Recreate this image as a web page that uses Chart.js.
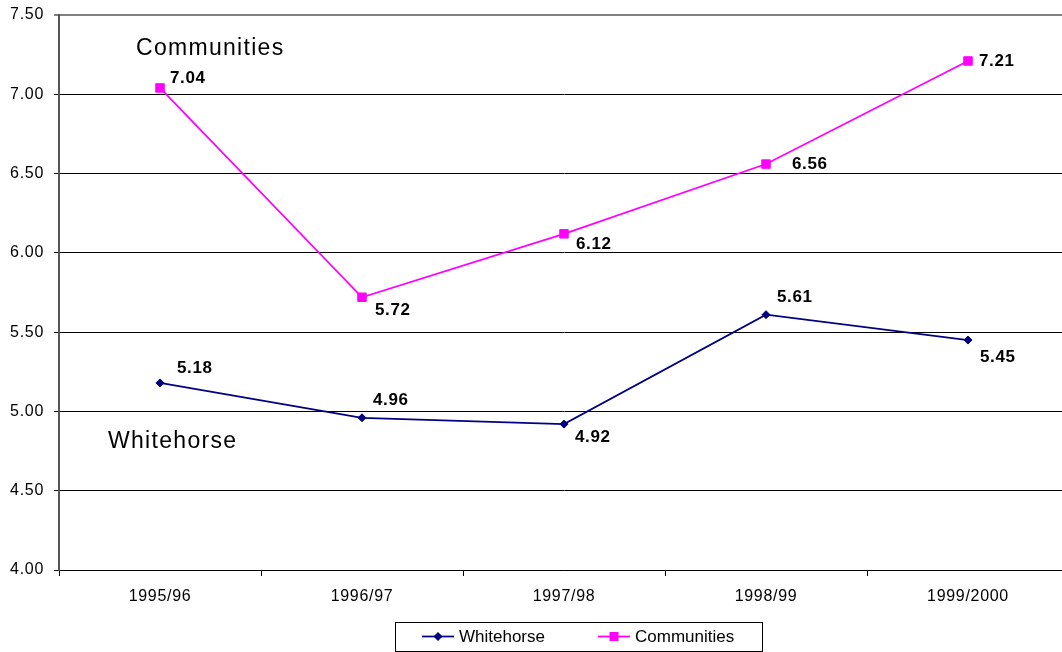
<!DOCTYPE html>
<html>
<head>
<meta charset="utf-8">
<script src="https://cdn.jsdelivr.net/npm/chart.js@4/dist/chart.umd.min.js"></script>
<style>
  html, body { margin: 0; padding: 0; background: #fff; overflow: hidden; }
  #wrap { width: 1062px; height: 652px; overflow: hidden; position: relative; }
  canvas { display: block; }
</style>
</head>
<body>
<div id="wrap"><canvas id="c" width="1076" height="652" style="width:1076px;height:652px"></canvas></div>
<script>
// Fiscal years and the two series
const years = ['1995/96', '1996/97', '1997/98', '1998/99', '1999/2000'];
const whitehorse = [5.18, 4.96, 4.92, 5.61, 5.45];
const communities = [7.04, 5.72, 6.12, 6.56, 7.21];
const seriesNames = ['Whitehorse', 'Communities'];
const yMin = 4.0, yMax = 7.5, yStep = 0.5;

const FONT = '"Liberation Sans", Arial, Helvetica, sans-serif';
const NAVY = '#000080';
const MAGENTA = '#FF00FF';

// Slightly widened text for the axis labels
const tracking = {
  id: 'tracking',
  beforeLayout(chart) { chart.ctx.letterSpacing = '0.7px'; },
  beforeDraw(chart) { chart.ctx.letterSpacing = '0.7px'; }
};

// Bold value next to each point
const valueLabels = {
  id: 'valueLabels',
  afterDatasetsDraw(chart, args, opts) {
    const ctx = chart.ctx;
    ctx.save();
    ctx.font = 'bold 17px ' + FONT;
    ctx.letterSpacing = '0.6px';
    ctx.fillStyle = '#000';
    ctx.textAlign = 'left';
    ctx.textBaseline = 'middle';
    chart.data.datasets.forEach((ds, i) => {
      const meta = chart.getDatasetMeta(i);
      const offs = opts.offsets[i];
      meta.data.forEach((pt, j) => {
        const o = offs[j];
        ctx.fillText(ds.data[j].toFixed(2), pt.x + o[0], pt.y + o[1]);
      });
    });
    ctx.restore();
  }
};

// Series names written inside the plot
const seriesTitles = {
  id: 'seriesTitles',
  afterDraw(chart, args, opts) {
    const ctx = chart.ctx, xs = chart.scales.x, ys = chart.scales.y;
    ctx.save();
    ctx.font = '23px ' + FONT;
    ctx.letterSpacing = '1.3px';
    ctx.fillStyle = '#000';
    ctx.textAlign = 'left';
    ctx.textBaseline = 'middle';
    opts.items.forEach(it => {
      ctx.fillText(it.text, xs.getPixelForValue(0) + it.dx, ys.getPixelForValue(it.value));
    });
    ctx.restore();
  }
};

// Boxed legend under the axis
const boxLegend = {
  id: 'boxLegend',
  afterDraw(chart, args, opts) {
    const ctx = chart.ctx;
    const b = opts.box;
    ctx.save();
    ctx.letterSpacing = '0px';
    ctx.fillStyle = '#fff';
    ctx.fillRect(b.x, b.y, b.w, b.h);
    ctx.strokeStyle = '#000';
    ctx.lineWidth = 1;
    ctx.strokeRect(b.x + 0.5, b.y + 0.5, b.w, b.h);
    ctx.font = '17px ' + FONT;
    ctx.textAlign = 'left';
    ctx.textBaseline = 'middle';
    const cy = b.y + b.h / 2;
    chart.data.datasets.forEach((ds, i) => {
      const x0 = b.x + opts.itemX[i];
      const col = ds.borderColor;
      ctx.strokeStyle = col;
      ctx.lineWidth = 1.75;
      ctx.beginPath();
      ctx.moveTo(x0, cy);
      ctx.lineTo(x0 + 32, cy);
      ctx.stroke();
      ctx.fillStyle = col;
      const mx = x0 + 16;
      ctx.beginPath();
      if (ds.pointStyle === 'rectRot') {
        ctx.moveTo(mx, cy - 4.5);
        ctx.lineTo(mx + 4.5, cy);
        ctx.lineTo(mx, cy + 4.5);
        ctx.lineTo(mx - 4.5, cy);
        ctx.closePath();
      } else {
        ctx.rect(mx - 4.5, cy - 4.5, 9, 9);
      }
      ctx.fill();
      ctx.fillStyle = '#000';
      ctx.fillText(ds.label, x0 + 37, cy + 1);
    });
    ctx.restore();
  }
};

new Chart(document.getElementById('c'), {
  type: 'line',
  data: {
    labels: years,
    datasets: [
      {
        label: seriesNames[0],
        data: whitehorse,
        borderColor: NAVY,
        backgroundColor: NAVY,
        borderWidth: 1.75,
        pointStyle: 'rectRot',
        pointRadius: 4,
        pointBorderWidth: 1,
        tension: 0,
        fill: false
      },
      {
        label: seriesNames[1],
        data: communities,
        borderColor: MAGENTA,
        backgroundColor: MAGENTA,
        borderWidth: 1.75,
        pointStyle: 'rect',
        pointRadius: 6,
        pointBorderWidth: 1,
        tension: 0,
        fill: false
      }
    ]
  },
  options: {
    responsive: false,
    animation: false,
    devicePixelRatio: 1,
    layout: { padding: { top: 15, left: 0, right: 0, bottom: 0 } },
    plugins: {
      legend: { display: false },
      tooltip: { enabled: false },
      valueLabels: {
        offsets: [
          [[17, -15], [11, -17], [11, 13], [11, -17], [12, 17]],
          [[10, -10], [13, 13], [12, 10], [26, 0], [11, 0]]
        ]
      },
      seriesTitles: {
        items: [
          { text: 'Communities', value: 7.29, dx: -24 },
          { text: 'Whitehorse', value: 4.81, dx: -52 }
        ]
      },
      boxLegend: {
        box: { x: 395, y: 622, w: 367, h: 29 },
        itemX: [27, 203]
      }
    },
    scales: {
      x: {
        type: 'category',
        offset: true,
        grid: {
          offset: true,
          drawOnChartArea: false,
          drawTicks: true,
          tickLength: 6,
          color: '#000',
          tickColor: '#000'
        },
        border: { color: '#000', width: 1 },
        ticks: {
          color: '#000',
          font: { family: FONT, size: 16 },
          padding: 11,
          maxRotation: 0,
          autoSkip: false
        },
        afterFit(s) { s.height = 82; }
      },
      y: {
        min: yMin,
        max: yMax,
        grid: {
          color: c => (c.tick && c.tick.value === yMax) ? '#808080' : '#000',
          lineWidth: c => (c.tick && c.tick.value === yMax) ? 2 : 1,
          tickLength: 5,
          tickColor: '#000',
          tickWidth: 1
        },
        border: { color: '#555', width: 2 },
        ticks: {
          stepSize: yStep,
          color: '#000',
          font: { family: FONT, size: 16 },
          padding: 10,
          callback: v => Number(v).toFixed(2)
        },
        afterFit(s) {
          s.width = 59;
          s.paddingTop = 0;
          s.paddingBottom = 0;
        }
      }
    }
  },
  plugins: [tracking, valueLabels, seriesTitles, boxLegend]
});
</script>
</body>
</html>
